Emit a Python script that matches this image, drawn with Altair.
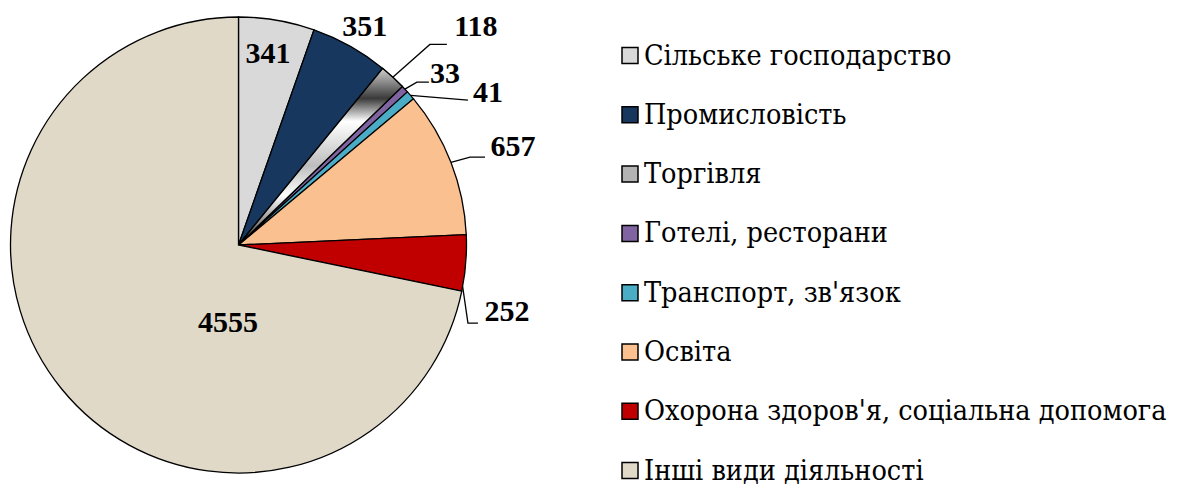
import math
import altair as alt
import pandas as pd

# ---- data ----
categories = [
    "Сільське господарство",
    "Промисловість",
    "Торгівля",
    "Готелі, ресторани",
    "Транспорт, зв'язок",
    "Освіта",
    "Охорона здоров'я, соціальна допомога",
    "Інші види діяльності",
]
values = [341, 351, 118, 33, 41, 657, 252, 4555]
colors = ["#d9d9d9", "#17375e", "#b3b3b3", "#8064a2", "#4bacc6", "#fac090", "#c00000", "#e0d9c8"]

# ---- layout / style ----
W, H = 1165, 477
CX, CY, R = 230.5, 237.0, 228.0
SERIF = "Liberation Serif"
SERIF_CYR = "DejaVu Serif Condensed, DejaVu Serif"
LEG_SYM_X, LEG_TXT_X, LEG_Y0, LEG_STEP = 622, 636, 47.5, 59.3
# label placement: (radius in px, angular shift in degrees from slice middle)
label_place = [(193, -0.9), (252, 0.8), (322, 4.9), (268, 3.5), (292, 9.7),
               (291.5, 1.6), (276.7, 9.5), (78.7, -43.1)]
# leader lines: (start angle shift on rim, [offsets relative to label centre])
leaders = {
    2: (0, [(-46, 17), (-29, 17)]),
    3: (0, [(-28, 8), (-16, 8)]),
    4: (0, [(-20, 7)]),
    5: (0, [(-43, 10), (-28, 10)]),
    6: (6, [(-39, 11), (-29, 11)]),
}

total = sum(values)
rows, lrows = [], []
cum = 0
for i, (c, v) in enumerate(zip(categories, values)):
    start, end = cum, cum + v
    cum = end
    mid_deg = (start + end) / 2 / total * 360
    r, sh = label_place[i]
    a = math.radians(mid_deg + sh)
    lx, ly = CX + r * math.sin(a), CY - r * math.cos(a)
    rows.append(dict(category=c, value=v, start=start, end=end, label=str(v), lx=lx, ly=ly,
                     gy=LEG_Y0 + i * LEG_STEP))
    if i in leaders:
        ssh, pts = leaders[i]
        b = math.radians(mid_deg + ssh)
        lrows.append(dict(label=str(v), ord=0, x=CX + R * math.sin(b), y=CY - R * math.cos(b)))
        for k, (dx, dy) in enumerate(pts):
            lrows.append(dict(label=str(v), ord=k + 1, x=lx + dx, y=ly + dy))

df = pd.DataFrame(rows)
ldf = pd.DataFrame(lrows)

theta = alt.Theta("start:Q", stack=False, scale=alt.Scale(domain=[0, total]))
color = alt.Color("category:N", sort=categories,
                  scale=alt.Scale(domain=categories, range=colors), legend=None)

pie = alt.Chart(df).mark_arc(outerRadius=R, stroke="black", strokeWidth=1.3).encode(
    theta=theta, theta2="end:Q", x=alt.value(CX), y=alt.value(CY), color=color,
)

grad = alt.Chart(df).transform_filter(alt.datum.category == "Торгівля").mark_arc(
    outerRadius=R, stroke="black", strokeWidth=1.3,
    fill=alt.LinearGradient(
        gradient="linear", x1=0, y1=0, x2=0, y2=1,
        stops=[
            alt.GradientStop(color="#d0d0d0", offset=0),
            alt.GradientStop(color="#3a3a3a", offset=0.17),
            alt.GradientStop(color="#ffffff", offset=0.3),
            alt.GradientStop(color="#bdbdbd", offset=0.55),
            alt.GradientStop(color="#ffffff", offset=0.72),
            alt.GradientStop(color="#2a2a2a", offset=1),
        ],
    ),
).encode(theta=theta, theta2="end:Q", x=alt.value(CX), y=alt.value(CY))

lines = alt.Chart(ldf).mark_line(color="black", strokeWidth=1.3).encode(
    x=alt.X("x:Q", scale=None, axis=None),
    y=alt.Y("y:Q", scale=None, axis=None),
    detail="label:N",
    order="ord:Q",
)

text = alt.Chart(df).mark_text(
    font=SERIF, fontSize=30, fontWeight="bold", color="black", baseline="middle"
).encode(
    x=alt.X("lx:Q", scale=None, axis=None),
    y=alt.Y("ly:Q", scale=None, axis=None),
    text="label:N",
)

leg_sym = alt.Chart(df).mark_square(size=256, stroke="black", strokeWidth=1.5, opacity=1).encode(
    x=alt.value(LEG_SYM_X),
    y=alt.Y("gy:Q", scale=None, axis=None),
    color=color,
)

leg_txt = alt.Chart(df).mark_text(
    font=SERIF_CYR, fontSize=28.5, color="black", align="left", baseline="middle"
).encode(
    x=alt.value(LEG_TXT_X),
    y=alt.Y("gy:Q", scale=None, axis=None),
    text="category:N",
)

chart = alt.layer(pie, grad, lines, text, leg_sym, leg_txt).properties(
    width=W, height=H, autosize=alt.AutoSizeParams(type="none"), padding=0
).configure_view(stroke=None)

chart.save("out.html", embed_options={"renderer": "svg", "actions": False})
